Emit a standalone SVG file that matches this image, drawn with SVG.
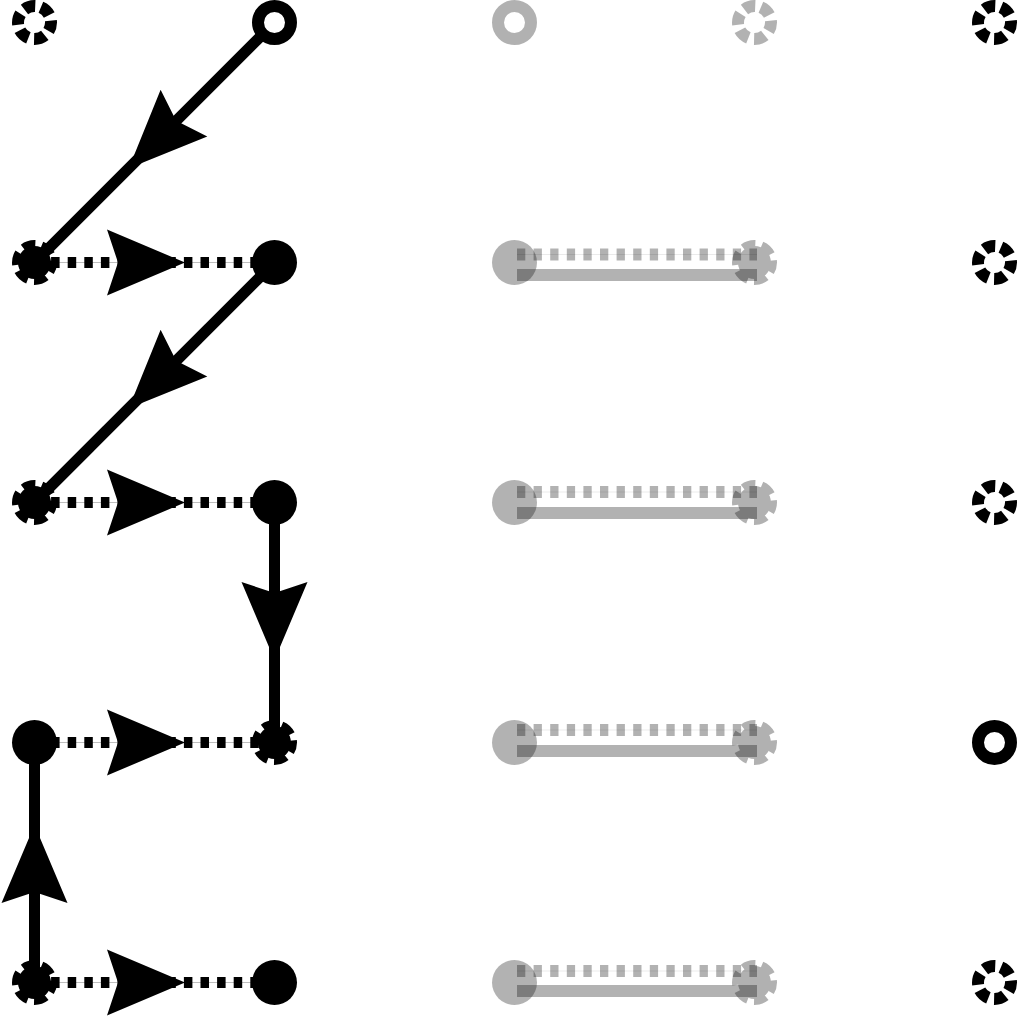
<svg xmlns="http://www.w3.org/2000/svg" width="1017" height="1018" viewBox="0 0 1017 1018">
<style>
.solid{stroke:#000;stroke-width:11;fill:none}
.gsolid{stroke:#000;stroke-width:12;fill:none;opacity:0.3}
.dot{stroke:#000;stroke-width:11;fill:none;stroke-dasharray:8.5 8.1}
.gdot{stroke:#000;stroke-width:12;fill:none;stroke-dasharray:8.3 8.3;opacity:0.3}
.hair{stroke:#000;stroke-width:1;opacity:0.25}
.ghair{stroke:#000;stroke-width:1;opacity:0.08}
.gray{opacity:0.3}
.ring{fill:#fff;stroke:#000;stroke-width:12}
.filled{fill:#000}
.dring{fill:none;stroke:#000;stroke-width:12;stroke-dasharray:11.5 5.78;stroke-dashoffset:2.6}
.gear{fill:#000;stroke:#000;stroke-width:12;stroke-dasharray:11.5 5.78;stroke-dashoffset:2.6}
</style>
<defs>
<polygon id="arr" points="0,0 -78,-33 -67,0 -78,33" fill="#000"/>
</defs>
<rect width="1017" height="1018" fill="#fff"/>
<g id="connectors">
<line class="solid" x1="274.5" y1="22.5" x2="34.5" y2="262.5"/>
<use href="#arr" transform="translate(128.8,168.2) rotate(135)"/>
<line class="solid" x1="274.5" y1="262.5" x2="34.5" y2="502.5"/>
<use href="#arr" transform="translate(128.8,408.2) rotate(135)"/>
<line class="solid" x1="274.5" y1="502.5" x2="274.5" y2="742.5"/>
<use href="#arr" transform="translate(274.5,660) rotate(90)"/>
<line class="solid" x1="34.5" y1="982.5" x2="34.5" y2="742.5"/>
<use href="#arr" transform="translate(34.5,825) rotate(-90)"/>
<line class="hair" x1="34.5" y1="262.5" x2="274.5" y2="262.5"/>
<line class="dot" x1="34.5" y1="262.5" x2="274.5" y2="262.5"/>
<use href="#arr" transform="translate(185,262.5)"/>
<line class="hair" x1="34.5" y1="502.5" x2="274.5" y2="502.5"/>
<line class="dot" x1="34.5" y1="502.5" x2="274.5" y2="502.5"/>
<use href="#arr" transform="translate(185,502.5)"/>
<line class="hair" x1="34.5" y1="742.5" x2="274.5" y2="742.5"/>
<line class="dot" x1="34.5" y1="742.5" x2="274.5" y2="742.5"/>
<use href="#arr" transform="translate(185,742.5)"/>
<line class="hair" x1="34.5" y1="982.5" x2="274.5" y2="982.5"/>
<line class="dot" x1="34.5" y1="982.5" x2="274.5" y2="982.5"/>
<use href="#arr" transform="translate(185,982.5)"/>
<line class="ghair" x1="517" y1="254.5" x2="757" y2="254.5"/>
<line class="gdot" x1="517" y1="254.5" x2="757" y2="254.5"/>
<line class="gsolid" x1="517" y1="275" x2="757" y2="275"/>
<line class="ghair" x1="517" y1="492" x2="757" y2="492"/>
<line class="gdot" x1="517" y1="492" x2="757" y2="492"/>
<line class="gsolid" x1="517" y1="513" x2="757" y2="513"/>
<line class="ghair" x1="517" y1="730" x2="757" y2="730"/>
<line class="gdot" x1="517" y1="730" x2="757" y2="730"/>
<line class="gsolid" x1="517" y1="751" x2="757" y2="751"/>
<line class="ghair" x1="517" y1="971" x2="757" y2="971"/>
<line class="gdot" x1="517" y1="971" x2="757" y2="971"/>
<line class="gsolid" x1="517" y1="991" x2="757" y2="991"/>
</g>
<g id="n0_0"><circle class="dring" cx="34.5" cy="22.5" r="16.5"/></g>
<g id="n0_1"><circle class="ring" cx="274.5" cy="22.5" r="16.5"/></g>
<g id="n0_2"><circle class="ring gray" cx="514.5" cy="22.5" r="16.5"/></g>
<g id="n0_3"><circle class="dring gray" cx="754.5" cy="22.5" r="16.5"/></g>
<g id="n0_4"><circle class="dring" cx="994.5" cy="22.5" r="16.5"/></g>
<g id="n1_0"><circle class="gear" cx="34.5" cy="262.5" r="16.5"/></g>
<g id="n1_1"><circle class="filled" cx="274.5" cy="262.5" r="22.5"/></g>
<g id="n1_2"><circle class="filled gray" cx="514.5" cy="262.5" r="22.5"/></g>
<g id="n1_3"><circle class="gear gray" cx="754.5" cy="262.5" r="16.5"/></g>
<g id="n1_4"><circle class="dring" cx="994.5" cy="262.5" r="16.5"/></g>
<g id="n2_0"><circle class="gear" cx="34.5" cy="502.5" r="16.5"/></g>
<g id="n2_1"><circle class="filled" cx="274.5" cy="502.5" r="22.5"/></g>
<g id="n2_2"><circle class="filled gray" cx="514.5" cy="502.5" r="22.5"/></g>
<g id="n2_3"><circle class="gear gray" cx="754.5" cy="502.5" r="16.5"/></g>
<g id="n2_4"><circle class="dring" cx="994.5" cy="502.5" r="16.5"/></g>
<g id="n3_0"><circle class="filled" cx="34.5" cy="742.5" r="22.5"/></g>
<g id="n3_1"><circle class="gear" cx="274.5" cy="742.5" r="16.5"/></g>
<g id="n3_2"><circle class="filled gray" cx="514.5" cy="742.5" r="22.5"/></g>
<g id="n3_3"><circle class="gear gray" cx="754.5" cy="742.5" r="16.5"/></g>
<g id="n3_4"><circle class="ring" cx="994.5" cy="742.5" r="16.5"/></g>
<g id="n4_0"><circle class="gear" cx="34.5" cy="982.5" r="16.5"/></g>
<g id="n4_1"><circle class="filled" cx="274.5" cy="982.5" r="22.5"/></g>
<g id="n4_2"><circle class="filled gray" cx="514.5" cy="982.5" r="22.5"/></g>
<g id="n4_3"><circle class="gear gray" cx="754.5" cy="982.5" r="16.5"/></g>
<g id="n4_4"><circle class="dring" cx="994.5" cy="982.5" r="16.5"/></g>
</svg>
